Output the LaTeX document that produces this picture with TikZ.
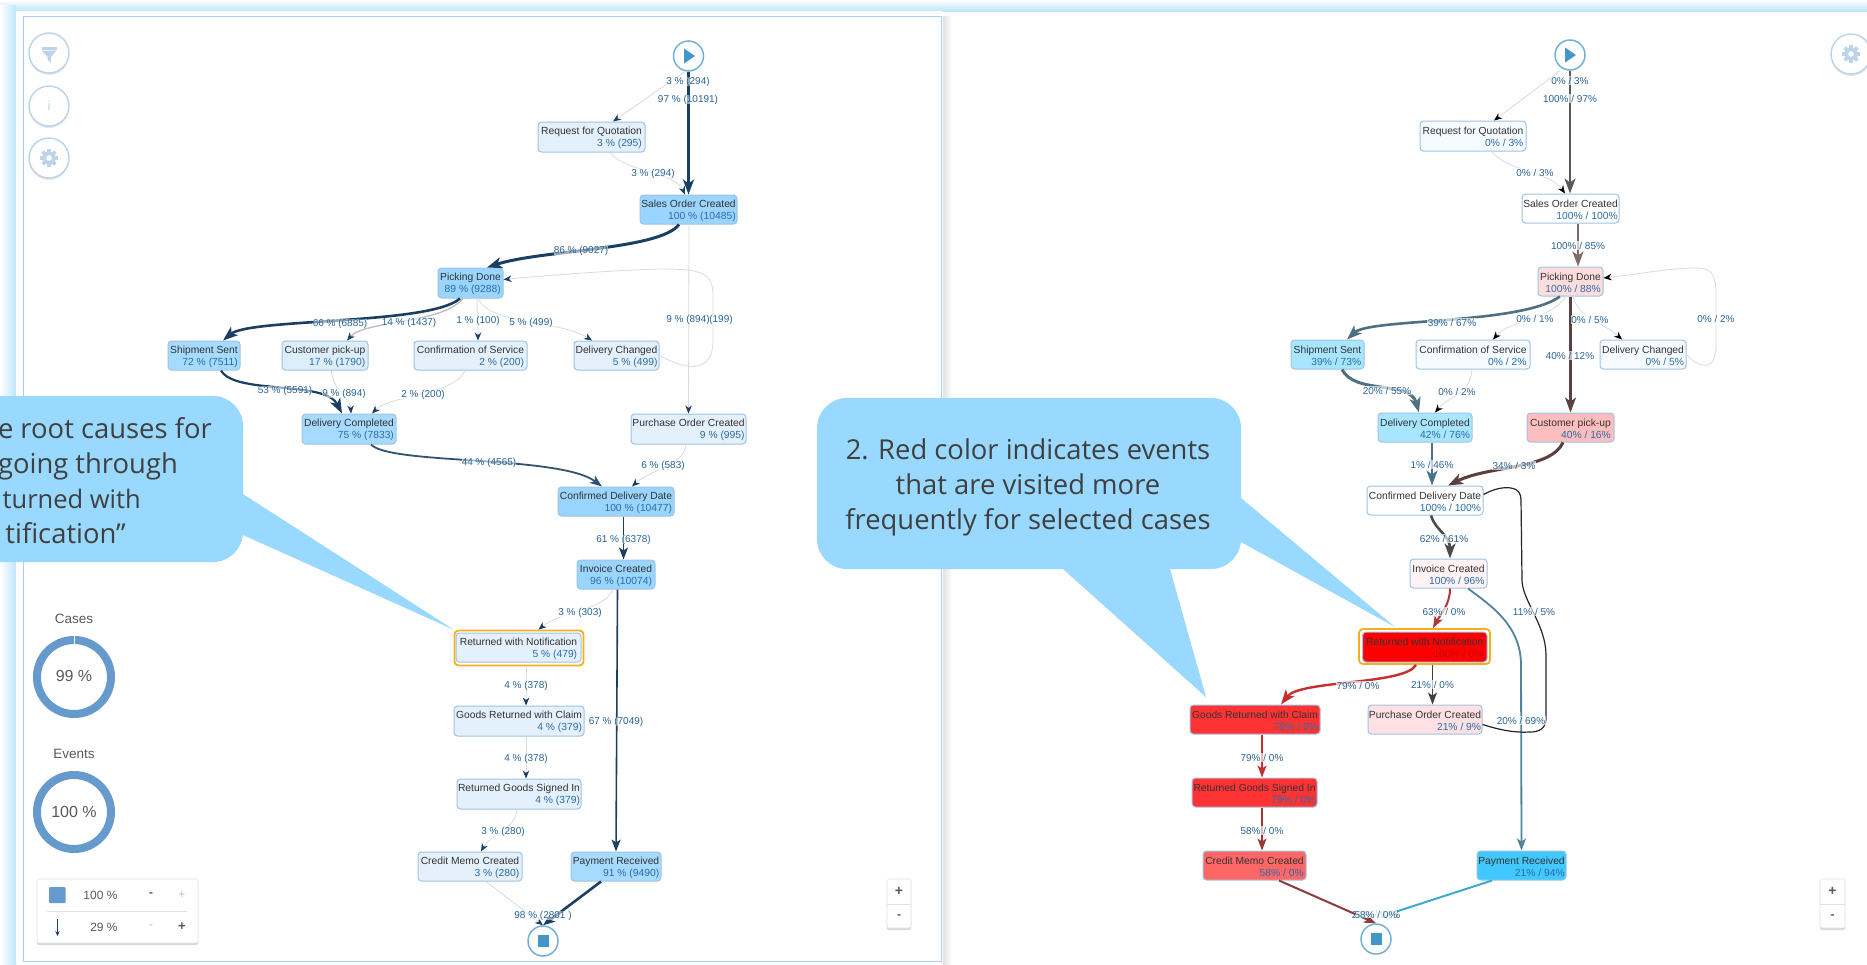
\documentclass[tikz,border=0pt]{standalone}
\usepackage{fontspec}
\setmainfont{Liberation Sans}
\newfontfamily\callfont{Open Sans}
\usetikzlibrary{arrows.meta,shadows}
\definecolor{navy}{HTML}{1B3F63}
\definecolor{labc}{HTML}{2A6496}
\definecolor{subc}{HTML}{2A6DA8}
\definecolor{titc}{HTML}{333333}
\definecolor{bordc}{HTML}{9FC3E3}
\definecolor{callc}{HTML}{99D8FF}
\definecolor{bandc}{HTML}{BEE6FC}
\definecolor{framec}{HTML}{ACCBFF}
\definecolor{iconc}{HTML}{BCD3EA}
\definecolor{wispc}{HTML}{D6DCE2}
\definecolor{ringc}{HTML}{6699CC}
\definecolor{playc}{HTML}{4596C8}
\definecolor{amber}{HTML}{F7AE1B}
\definecolor{lstrong}{HTML}{99D5FF}
\definecolor{lmid}{HTML}{A6DAFF}
\definecolor{lpale}{HTML}{E4F0FB}
\definecolor{rblue}{HTML}{A8E6FF}
\definecolor{rpale}{HTML}{F5FBFF}
\definecolor{lcustc}{HTML}{DDEEFB}
\definecolor{rpickc}{HTML}{FFDDDD}
\definecolor{rcustc}{HTML}{FFBDBD}
\definecolor{rinvc}{HTML}{FFF3F3}
\definecolor{rgoodc}{HTML}{FF3333}
\definecolor{rpocc}{HTML}{FFE0E3}
\definecolor{rcredc}{HTML}{FF6666}
\definecolor{rpayc}{HTML}{40C8FF}
\definecolor{eA}{HTML}{7F6A6A}
\definecolor{eB}{HTML}{4F7080}
\definecolor{eC}{HTML}{5A4242}
\definecolor{eD}{HTML}{4A7285}
\definecolor{eE}{HTML}{5B3F3F}
\definecolor{eF}{HTML}{B03A3A}
\definecolor{eG}{HTML}{4F8599}
\definecolor{eH}{HTML}{C43030}
\definecolor{eI}{HTML}{9C3535}
\definecolor{eJ}{HTML}{8C3C3C}
\definecolor{eK}{HTML}{3FA9D0}
\newcounter{labn}
\tikzset{
  box/.style={draw=bordc,line width=1pt,rounded corners=3.5pt,inner sep=0pt,align=right,
    text=titc,font=\fontsize{10.3}{12}\selectfont},
  ringbox/.style={draw=amber,line width=1.8pt,rounded corners=4pt,inner sep=0pt,fill=white},
  lablft/.style={font=\fontsize{10}{11}\selectfont,text=labc,inner sep=0pt,fill=white,fill opacity=.55,text opacity=1},
  labrgt/.style={font=\fontsize{10}{11}\selectfont,text=labc,inner sep=.5pt,fill=white,fill opacity=.65,text opacity=1},
  labtop/.style={font=\fontsize{10}{11}\selectfont,text=labc,inner sep=0pt,fill=white,fill opacity=.8,text opacity=1},
  labbot/.style={font=\fontsize{10}{11}\selectfont,text=labc,inner sep=0pt},
  wisp/.style={draw=wispc,line width=.8pt,-{Stealth[length=8pt,width=6.5pt,inset=2.5pt,color=navy]}},
  wispk/.style={draw=wispc,line width=.8pt,-{Stealth[length=8pt,width=6.5pt,inset=2.5pt,color=black]}},
  flow/.style 2 args={draw=#1,line width=#2,-{Stealth[length=15pt,width=11pt,inset=4pt]}},
  flowm/.style 2 args={draw=#1,line width=#2,-{Stealth[length=12pt,width=9pt,inset=3pt]}},
  round btn/.style={draw=iconc,line width=1.4pt,fill=white,circle,minimum size=40pt,inner sep=0pt,
    drop shadow={shadow xshift=0pt,shadow yshift=-2pt,opacity=.2,fill=gray}},
  flag/.style={draw=playc!75,line width=1.5pt,fill=white,circle,minimum size=30pt,inner sep=0pt},
  panelbox/.style={draw=black!12,line width=.6pt,fill=white,rounded corners=1.5pt,
    drop shadow={shadow xshift=0pt,shadow yshift=-2pt,opacity=.3,fill=gray}},
  calltext/.style={font=\callfont\fontsize{27.4}{35}\selectfont,text=black!75,inner sep=0pt},
  uitext/.style={font=\fontsize{12}{14}\selectfont,text=black!65,inner sep=0pt},
}
\newcommand\fnode[8]{%
  \pgfmathsetmacro\fcx{(#2+#3)/2}\pgfmathsetmacro\fcy{(#4+#5)/2}%
  \pgfmathsetmacro\fw{#3-#2}\pgfmathsetmacro\fh{#5-#4}%
  \node[box,fill=#6,minimum width=\fw pt,minimum height=\fh pt] (#1) at (\fcx,\fcy)
    {\rule{0pt}{9.5pt}#7\\\textcolor{subc}{#8}};}
\newcommand\elab[4]{\stepcounter{labn}\node[#1] (lab\thelabn) at (#2,#3+1.5) {#4};}
\newcommand\gearicon[2]{%
  \fill[iconc] (#1,#2) circle[radius=6.5];
  \foreach \a in {0,45,...,135} {\fill[iconc,rotate around={\a:(#1,#2)}] (#1-1.9,#2-9) rectangle (#1+1.9,#2+9);}
  \fill[white] (#1,#2) circle[radius=2.8];}
\begin{document}
\begin{tikzpicture}[x=1pt,y=-1pt]
\clip (0,0) rectangle (1867,964);
\fill[white] (0,0) rectangle (1867,964);
% page frame
\shade[top color=white,bottom color=bandc,draw=none] (0,0) rectangle (1867,11);
\shade[left color=white,right color=bandc,draw=none] (0,5) rectangle (16,964);
\fill[white] (16,11) rectangle (942,964);
\draw[framec,line width=.9pt] (23,16) rectangle (941,961);
\shade[left color=black!11,right color=white,draw=none] (943,16) rectangle (952,964);

% ------------ left panel nodes
\node[flag] (lstart) at (688.5,56) {};
\fill[playc] (684,48.5) -- (695,56) -- (684,63.5) -- cycle;
\fnode{lrfq}{538}{645}{122}{152}{lpale}{Request for Quotation}{3 \% (295)}
\fnode{lsales}{640}{737}{195}{224}{lstrong}{Sales Order Created}{100 \% (10485)}
\fnode{lpick}{438}{503}{268}{298}{lstrong}{Picking Done}{89 \% (9288)}
\fnode{lship}{168}{240}{341}{370}{lmid}{Shipment Sent}{72 \% (7511)}
\fnode{lcust}{282}{368}{341}{370}{lcustc}{Customer pick-up}{17 \% (1790)}
\fnode{lconf}{414}{527}{341}{370}{lpale}{Confirmation of Service}{2 \% (200)}
\fnode{ldchg}{574}{659}{341}{370}{lpale}{Delivery Changed}{5 \% (499)}
\fnode{ldcomp}{302}{396}{414}{444}{lmid}{Delivery Completed}{75 \% (7833)}
\fnode{lpoc}{631}{746}{414}{444}{lpale}{Purchase Order Created}{9 \% (995)}
\fnode{lcdd}{558}{674}{487}{516}{lstrong}{Confirmed Delivery Date}{100 \% (10477)}
\fnode{linv}{577}{655}{560}{589}{lstrong}{Invoice Created}{96 \% (10074)}
\node[ringbox,minimum width=129pt,minimum height=35pt] (lring) at (519,648) {};
\fnode{lret}{456}{581}{633}{662}{lpale}{Returned with Notification}{5 \% (479)}
\fnode{lgoods}{454}{584}{706}{736}{lpale}{Goods Returned with Claim}{4 \% (379)}
\fnode{lsigned}{457}{581}{779}{809}{lpale}{Returned Goods Signed In}{4 \% (379)}
\fnode{lcredit}{418}{522}{852}{881}{lpale}{Credit Memo Created}{3 \% (280)}
\fnode{lpay}{571}{661}{852}{881}{lmid}{Payment Received}{91 \% (9490)}
\node[flag] (lend) at (543,941) {};
\fill[playc] (538,935) rectangle (549,947);

% left panel connectors
\draw[wisp] ([xshift=-4]lstart.south) -- ([xshift=21.5]lrfq.north);
\draw[flow={navy}{2.4pt}] (lstart.south) -- (lsales.north);
\draw[wisp] ([xshift=18.5]lrfq.south) .. controls (625,172) and (675,172) .. ([xshift=-3.5]lsales.north);
\draw[flow={navy}{3pt}] ([xshift=-9.5]lsales.south) .. controls (660,250) and (540,250) .. ([xshift=16.5]lpick.north);
\draw[wisp] ([xshift=.5]lsales.south) -- (lpoc.north);
\draw[flow={navy}{2.6pt}] ([xshift=-10.5]lpick.south) .. controls (430,325) and (250,318) .. ([xshift=19]lship.north);
\draw[wisp,draw=black!25,line width=1.4pt] ([xshift=-7.5]lpick.south) .. controls (440,325) and (365,320) .. ([xshift=22]lcust.north);
\draw[wisp] ([xshift=6.5]lpick.south) .. controls (477,315) and (478,325) .. ([xshift=7.5]lconf.north);
\draw[wisp] ([xshift=7.5]lpick.south) .. controls (490,325) and (560,320) .. ([xshift=-24.5]ldchg.north);
\draw[wisp] (ldchg.east) .. controls (690,372) and (713,372) .. (713,340) -- (713,295)
   .. controls (713,272) and (700,269) .. (660,269) .. controls (620,270) and (550,275) .. ([yshift=3.5]lpick.east);
\draw[flow={navy}{2.2pt}] ([xshift=17]lship.south) .. controls (235,395) and (325,380) .. ([xshift=-7]ldcomp.north);
\draw[wisp] ([xshift=6]lcust.south) .. controls (335,395) and (350,395) .. ([xshift=2]ldcomp.north);
\draw[wisp] ([xshift=-5.5]lconf.south) .. controls (455,395) and (390,395) .. ([xshift=23]ldcomp.north);
\draw[flowm={navy!90}{1.8pt}] ([xshift=22]ldcomp.south) .. controls (390,465) and (560,455) .. ([xshift=-14]lcdd.north);
\draw[wisp] ([xshift=-2.5]lpoc.south) .. controls (685,465) and (650,470) .. ([xshift=16]lcdd.north);
\draw[flowm={navy}{1.6pt}] ([xshift=7.5]lcdd.south) -- ([xshift=7.5]linv.north);
\draw[wisp] ([xshift=-3]linv.south) .. controls (605,610) and (560,612) .. ([xshift=19.5]lring.north);
\draw[flowm={navy}{1.6pt}] ([xshift=1.5]linv.south) -- (lpay.north);
\draw[wisp] ([xshift=7.5]lring.south) -- ([xshift=7]lgoods.north);
\draw[wisp] ([xshift=7]lgoods.south) -- ([xshift=7]lsigned.north);
\draw[wisp] ([xshift=-2]lsigned.south) .. controls (515,830) and (490,835) .. ([xshift=11]lcredit.north);
\draw[wisp] ([xshift=16]lcredit.south) -- (lend.north);
\draw[flowm={navy}{2.6pt}] ([xshift=-15]lpay.south) -- (lend.north);

% left panel labels
\elab{lablft}{688}{80}{3 \% (294)}
\elab{lablft}{688}{98}{97 \% (10191)}
\elab{lablft}{653}{172}{3 \% (294)}
\elab{lablft}{581}{249}{86 \% (9027)}
\elab{lablft}{340}{322}{66 \% (6885)}
\elab{lablft}{409}{321}{14 \% (1437)}
\elab{lablft}{478}{319}{1 \% (100)}
\elab{lablft}{531}{321}{5 \% (499)}
\elab{lablft}{721}{318}{(199)}
\elab{lablft}{688}{318}{9 \% (894)}
\elab{lablft}{285}{389}{53 \% (5591)}
\elab{lablft}{344}{392}{9 \% (894)}
\elab{lablft}{423}{393}{2 \% (200)}
\elab{lablft}{489}{461}{44 \% (4565)}
\elab{lablft}{663}{464}{6 \% (583)}
\elab{lablft}{623.5}{538}{61 \% (6378)}
\elab{lablft}{580}{611}{3 \% (303)}
\elab{lablft}{526}{684}{4 \% (378)}
\elab{lablft}{616}{720}{67 \% (7049)}
\elab{lablft}{526}{757}{4 \% (378)}
\elab{lablft}{503}{830}{3 \% (280)}
\elab{lablft}{543}{914}{98 \% (2801 )}

% ------------ right panel nodes
\node[flag] (rstart) at (1570,55) {};
\fill[playc] (1565,47.5) -- (1576,55) -- (1565,62.5) -- cycle;
\fnode{rrfq}{1420}{1526}{121}{151}{rpale}{Request for Quotation}{0\% / 3\%}
\fnode{rsales}{1522}{1619}{194}{223}{white}{Sales Order Created}{100\% / 100\%}
\fnode{rpick}{1538}{1603}{267}{296}{rpickc}{Picking Done}{100\% / 88\%}
\fnode{rship}{1291}{1364}{340}{369}{rblue}{Shipment Sent}{39\% / 73\%}
\fnode{rconf}{1416}{1530}{340}{369}{rpale}{Confirmation of Service}{0\% / 2\%}
\fnode{rdchg}{1600}{1686}{340}{369}{rpale}{Delivery Changed}{0\% / 5\%}
\fnode{rdcomp}{1378}{1472}{413}{442}{rblue}{Delivery Completed}{42\% / 76\%}
\fnode{rcust}{1527}{1614}{413}{442}{rcustc}{Customer pick-up}{40\% / 16\%}
\fnode{rcdd}{1367}{1483}{486}{515}{white}{Confirmed Delivery Date}{100\% / 100\%}
\fnode{rinv}{1410}{1487}{559}{588}{rinvc}{Invoice Created}{100\% / 96\%}
\node[ringbox,minimum width=131pt,minimum height=35pt] (rring) at (1424.5,646.5) {};
\fnode{rret}{1362.5}{1487}{632}{662}{red}{Returned with Notification}{\color{red!75!black}100\% / 0\%}
\fnode{rgoods}{1190}{1320}{705}{734}{rgoodc}{Goods Returned with Claim}{79\% / 0\%}
\fnode{rpoc}{1368}{1482}{705}{734}{rpocc}{Purchase Order Created}{21\% / 9\%}
\fnode{rsigned}{1192}{1317}{778}{807}{rgoodc}{Returned Goods Signed In}{79\% / 0\%}
\fnode{rcredit}{1203}{1306}{851}{880}{rcredc}{Credit Memo Created}{58\% / 0\%}
\fnode{rpay}{1477}{1566}{851}{880}{rpayc}{Payment Received}{21\% / 94\%}
\node[flag] (rend) at (1376,939) {};
\fill[playc] (1370.5,933) rectangle (1381.5,945);

% right panel connectors
\draw[wispk] ([xshift=-10]rstart.south) -- ([xshift=21]rrfq.north);
\draw[flow={black!65}{2.2pt}] (rstart.south) -- ([xshift=-.5]rsales.north);
\draw[wispk] ([xshift=18]rrfq.south) .. controls (1510,172) and (1550,172) .. ([xshift=-5.5]rsales.north);
\draw[flow={eA}{2.6pt}] ([xshift=7.5]rsales.south) -- ([xshift=7.5]rpick.north);
\draw[flow={eB}{2.6pt}] ([xshift=-10.5]rpick.south) .. controls (1520,325) and (1370,318) .. ([xshift=19.5]rship.north);
\draw[wispk] ([xshift=-4.5]rpick.south) .. controls (1550,320) and (1510,320) .. ([xshift=20]rconf.north);
\draw[flow={eC}{2.2pt}] (rpick.south) -- (rcust.north);
\draw[wispk] ([xshift=2.5]rpick.south) .. controls (1580,320) and (1600,320) .. ([xshift=-21]rdchg.north);
\draw[wispk] (rdchg.east) .. controls (1700,369) and (1716,372) .. (1716,345) -- (1716,295)
   .. controls (1716,272) and (1710,268) .. (1696,268) .. controls (1670,268) and (1640,274) .. ([yshift=3.5]rpick.east);
\draw[flow={eB}{3pt}] ([xshift=14.5]rship.south) .. controls (1355,395) and (1410,380) .. ([xshift=-6]rdcomp.north);
\draw[wispk] ([xshift=-1]rconf.south) .. controls (1470,395) and (1450,395) .. ([xshift=10]rdcomp.north);
\draw[flow={eD}{2.2pt}] ([xshift=7]rdcomp.south) -- ([xshift=7]rcdd.north);
\draw[flow={eE}{3pt}] ([xshift=-7.5]rcust.south) .. controls (1550,470) and (1490,465) .. ([xshift=23]rcdd.north);
\draw[flow={black!70}{2.6pt}] ([xshift=6]rcdd.south) .. controls (1435,530) and (1450,535) .. ([xshift=1.5]rinv.north);
\draw[flowm={eF}{2pt}] ([xshift=1.5]rinv.south) .. controls (1450,605) and (1440,615) .. ([xshift=8.5]rring.north);
\draw[flowm={eG}{1.8pt}] ([xshift=19.5]rinv.south) .. controls (1490,605) and (1521,625) .. (1521,665) -- (rpay.north);
\draw[draw=black!85,line width=1.2pt] ([yshift=6]rcdd.east) .. controls (1495,488) and (1505,487) .. (1511,488)
   .. controls (1518,489) and (1521,493) .. (1521,500) -- (1522,580)
   .. controls (1522,600) and (1546,625) .. (1546,655) -- (1546,718)
   .. controls (1546,728) and (1540,732) .. (1530,732) .. controls (1515,733) and (1500,730) .. ([yshift=-5]rpoc.east);
\draw[flow={eH}{2.4pt}] ([xshift=-8.5]rring.south) .. controls (1405,685) and (1300,680) .. ([xshift=26]rgoods.north);
\draw[flowm={black!75}{1.5pt}] ([xshift=8]rring.south) -- ([xshift=7.5]rpoc.north);
\draw[flowm={eH}{1.5pt}] ([xshift=7]rgoods.south) -- ([xshift=7.5]rsigned.north);
\draw[flowm={eI}{1.5pt}] ([xshift=7.5]rsigned.south) -- ([xshift=7.5]rcredit.north);
\draw[flowm={eJ}{2pt}] ([xshift=24.5]rcredit.south) -- (rend.north);
\draw[draw=eK,line width=2pt] ([xshift=-29.5]rpay.south) -- ([xshift=12,yshift=9]rend.north);

% right panel labels
\elab{labrgt}{1570}{79}{0\% / 3\%}
\elab{labrgt}{1570}{97}{100\% / 97\%}
\elab{labrgt}{1535}{171}{0\% / 3\%}
\elab{labrgt}{1578}{244}{100\% / 85\%}
\elab{labrgt}{1452}{321}{39\% / 67\%}
\elab{labrgt}{1535}{317}{0\% / 1\%}
\elab{labrgt}{1590}{318}{0\% / 5\%}
\elab{labrgt}{1716}{317}{0\% / 2\%}
\elab{labrgt}{1570}{354}{40\% / 12\%}
\elab{labrgt}{1387}{389}{20\% / 55\%}
\elab{labrgt}{1457}{390}{0\% / 2\%}
\elab{labrgt}{1432}{463}{1\% / 46\%}
\elab{labrgt}{1514}{464}{34\% / 3\%}
\elab{labrgt}{1444}{537}{62\% / 61\%}
\elab{labrgt}{1444}{610}{63\% / 0\%}
\elab{labrgt}{1534}{610}{11\% / 5\%}
\elab{labrgt}{1358}{684}{79\% / 0\%}
\elab{labrgt}{1432.5}{683}{21\% / 0\%}
\elab{labrgt}{1521}{719}{20\% / 69\%}
\elab{labrgt}{1262}{756}{79\% / 0\%}
\elab{labrgt}{1262}{829}{58\% / 0\%}
\elab{labbot}{1376}{913}{21\% / 94\%}
\elab{labtop}{1376}{913}{58\% / 0\%}

% ------------ side buttons
\node[round btn] (bfilter) at (49,53) {};
\fill[iconc] (41.5,47) rectangle (56.5,49.5);
\fill[iconc] (41.5,50.5) -- (56.5,50.5) -- (51,57) -- (50.5,63) -- (47.5,59.5) -- (47.5,57) -- cycle;
\node[round btn,text=iconc,font=\fontsize{13}{13}\selectfont] (binfo) at (49,106) {i};
\node[round btn] (bgear) at (49,158) {};
\gearicon{49}{158}
\node[round btn] (rgear) at (1851,54) {};
\gearicon{1851}{54}

% ------------ donuts
\node[uitext,font=\fontsize{13.5}{14}\selectfont] (tcases) at (74,618.5) {Cases};
\draw[ringc,line width=8pt] (74,677) circle[radius=37];
\draw[white,line width=.8pt] (74,635) -- (74,645);
\node[uitext,font=\fontsize{16}{16}\selectfont] (vcases) at (74,676) {99 \%};
\node[uitext,font=\fontsize{13.5}{14}\selectfont] (tevents) at (74,754) {Events};
\draw[ringc,line width=8pt] (74,812) circle[radius=37];
\node[uitext,font=\fontsize{16}{16}\selectfont] (vevents) at (74,811.5) {100 \%};

% ------------ legend
\draw[panelbox] (37,879) rectangle (198,943);
\fill[ringc,rounded corners=1pt] (49,887) rectangle (65.5,903);
\node[uitext] (lgA) at (100.5,895) {100 \%};
\node[uitext,font=\bfseries\fontsize{12}{14}\selectfont] (lgB) at (151,895) {-};
\node[uitext,text=black!25] (lgC) at (182,895) {+};
\draw[black!12,line width=.7pt] (47,911) -- (187,911);
\draw[navy,line width=1pt,-{Stealth[length=5pt,width=4.5pt]}] (57.5,919) -- (57.5,936);
\node[uitext] (lgD) at (104,927) {29 \%};
\node[uitext,text=black!25] (lgE) at (151,927) {-};
\node[uitext,font=\bfseries\fontsize{13}{14}\selectfont] (lgF) at (182,927) {+};

% ------------ zoom controls
\draw[panelbox] (887,879) rectangle (911,928);
\draw[black!12,line width=.7pt] (887,904) -- (911,904);
\node[uitext,font=\bfseries\fontsize{14}{14}\selectfont] (zA) at (899,891) {+};
\node[uitext,font=\bfseries\fontsize{12}{14}\selectfont] (zB) at (899,916.5) {-};
\draw[panelbox] (1820,879) rectangle (1845,928);
\draw[black!12,line width=.7pt] (1820,904) -- (1845,904);
\node[uitext,font=\bfseries\fontsize{14}{14}\selectfont] (zC) at (1832.5,891) {+};
\node[uitext,font=\bfseries\fontsize{12}{14}\selectfont] (zD) at (1832.5,916.5) {-};

% ------------ callouts
\fill[callc] (243,494) -- (lring.north west) -- (243,535) -- cycle;
\fill[callc] [sharp corners] (0,396) [rounded corners=30pt] -- (243,396) -- (243,562) [sharp corners] -- (0,562) -- cycle;
\node[calltext,anchor=base east] (ca) at (212,438) {e root causes for};
\node[calltext,anchor=base east] (cb) at (178,473) {going through};
\node[calltext,anchor=base east,font=\callfont\fontsize{25.5}{35}\selectfont] (cc) at (141,508) {turned with};
\node[calltext,anchor=base east] (cd) at (126,543) {tification”};
\fill[callc] (1241,498) -- (1395,627) -- (1241,542) -- cycle;
\fill[callc] (1063,569) -- (1206,697) -- (1170,569) -- cycle;
\fill[callc,rounded corners=30pt] (817,398) rectangle (1241,569);
\node[calltext,align=center] (ce) at (1028,487.5) {2. Red color indicates events\\that are visited more\\frequently for selected cases};
\end{tikzpicture}
\end{document}
